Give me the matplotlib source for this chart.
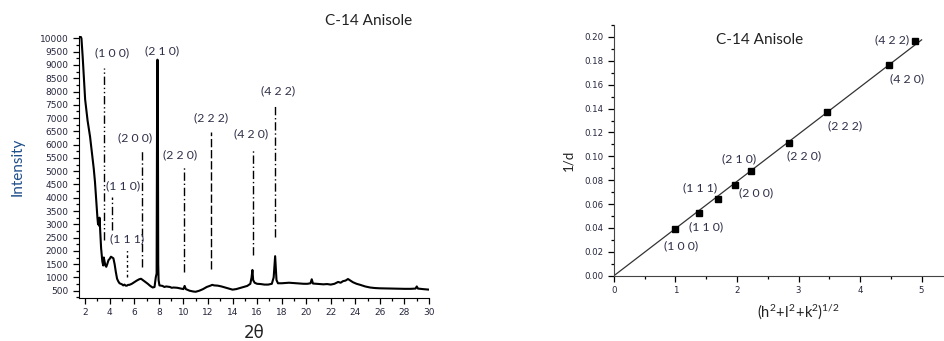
import numpy as np
import matplotlib
matplotlib.use("Agg")
import matplotlib.pyplot as plt
from matplotlib.ticker import MultipleLocator

plt.rcParams['font.family'] = ['DejaVu Sans']
plt.rcParams['mathtext.fontset'] = 'custom'
plt.rcParams['mathtext.rm'] = 'Lato'
plt.rcParams['mathtext.it'] = 'Lato'

# XRD pattern
two_theta = [1.60, 1.70, 1.80, 1.90, 2.00, 2.10, 2.20, 2.30, 2.40, 2.50, 2.60, 2.70,
             2.80, 2.90, 3.00, 3.05, 3.10, 3.13, 3.17, 3.22, 3.30, 3.40, 3.47, 3.52,
             3.58, 3.65, 3.72, 3.80, 3.90, 4.00, 4.10, 4.20, 4.30, 4.40, 4.50, 4.60,
             4.70, 4.80, 4.90, 5.00, 5.10, 5.20, 5.30, 5.40, 5.50, 5.60, 5.80, 6.00,
             6.20, 6.40, 6.55, 6.70, 6.90, 7.10, 7.30, 7.50, 7.65, 7.75, 7.82, 7.86,
             7.89, 7.92, 7.95, 7.98, 8.05, 8.30, 8.45, 8.60, 8.90, 9.05, 9.20, 9.50,
             9.80, 10.00, 10.10, 10.20, 10.50, 10.80, 11.00, 11.30, 11.60, 11.90,
             12.20, 12.35, 12.50, 12.80, 13.10, 13.40, 13.70, 14.00, 14.30, 14.60,
             14.90, 15.20, 15.45, 15.55, 15.62, 15.68, 15.80, 16.00, 16.30, 16.60,
             16.90, 17.20, 17.35, 17.42, 17.47, 17.52, 17.58, 17.70, 18.00, 18.30,
             18.60, 18.90, 19.20, 19.50, 19.80, 20.10, 20.35, 20.45, 20.55, 20.80,
             21.10, 21.40, 21.70, 22.00, 22.30, 22.60, 22.80, 23.00, 23.20, 23.40,
             23.60, 23.80, 24.10, 24.40, 24.80, 25.20, 25.60, 26.00, 26.50, 27.00,
             27.50, 28.00, 28.50, 28.90, 29.00, 29.10, 29.50, 30.00]
intensity = [10100, 10000, 9300, 8500, 7700, 7300, 6900, 6600, 6300, 5900, 5500, 5100,
             4600, 3900, 3250, 3000, 3200, 2950, 3250, 2800, 2100, 1600, 1450, 1750,
             1600, 1450, 1400, 1500, 1650, 1700, 1780, 1750, 1720, 1500, 1200, 950,
             850, 780, 760, 740, 700, 730, 690, 690, 720, 720, 760, 820,
             880, 930, 950, 900, 830, 760, 680, 620, 640, 1000, 1150, 7700,
             9200, 7750, 1500, 900, 700, 680, 640, 660, 640, 610, 620, 610,
             580, 560, 680, 560, 500, 470, 460, 500, 560, 640,
             690, 720, 700, 690, 660, 620, 580, 540, 560, 600,
             640, 680, 760, 1000, 1280, 900, 800, 760, 750, 730,
             730, 760, 1000, 1500, 1800, 1400, 900, 780, 780, 790,
             800, 790, 780, 770, 760, 760, 780, 930, 770, 760,
             750, 740, 750, 730, 760, 830, 800, 860, 880, 940,
             880, 820, 760, 720, 660, 620, 600, 590, 585, 580,
             575, 570, 570, 580, 660, 580, 560, 540]

# indexed reflections marked on the pattern
peak_labels = ['(1 0 0)', '(1 1 0)', '(1 1 1)', '(2 0 0)', '(2 1 0)',
               '(2 2 0)', '(2 2 2)', '(4 2 0)', '(4 2 2)']
peak_pos = [3.57, 4.20, 5.39, 6.66, 7.89, 10.08, 12.23, 15.70, 17.46]
peak_low = [2410, 2780, 1030, 1400, None, 1215, 1305, 1845, 2510]
peak_high = [8870, 4015, 2100, 5820, 9200, 5170, 6490, 5850, 7520]

# 1/d against sqrt(h^2+k^2+l^2)
hkl_root = [1.00, 1.39, 1.69, 1.97, 2.22, 2.84, 3.47, 4.47, 4.90]
inv_d = [0.0394, 0.0528, 0.0642, 0.0763, 0.0880, 0.1115, 0.1370, 0.1763, 0.1964]

lab_col = '#30304a'
tick_col = '#26263e'

fig = plt.figure(figsize=(9.45, 3.41), dpi=100)

# ---- left panel: pattern
ax1 = fig.add_axes([0.0836, 0.1261, 0.3704, 0.769])
ax1.plot(two_theta, intensity, color='black', lw=1.5)
styles = [(0, (6, 2, 1, 2, 1, 2)), (0, (6, 2, 1, 2)), (0, (2, 2, 1, 2)),
          (0, (6, 2, 1, 2)), None, (0, (6, 2, 1, 2)), (0, (6, 2)),
          (0, (6, 2, 1, 2)), (0, (6, 2, 1, 2))]
text_off = [(8, 16), (11, 12), (0, 9), (-7, 12), (5, 9), (-4, 12), (0, 14), (-2, 15), (3, 13)]
for lab, x, lo, hi, ls, off in zip(peak_labels, peak_pos, peak_low, peak_high, styles, text_off):
    if lo is not None:
        ax1.vlines(x, lo, hi, colors='black', linestyles=[ls], lw=1.0)
    ax1.annotate(lab, (x, hi), xytext=off, textcoords='offset pixels',
                 ha='center', va='center', fontsize=8.8, color=lab_col, family='Lato')
ax1.set_xlim(1.5, 30)
ax1.set_ylim(225, 10100)
ax1.xaxis.set_minor_locator(MultipleLocator(1))
ax1.set_xticks(np.arange(2, 31, 2))
ax1.set_yticks(np.arange(500, 10001, 500))
ax1.yaxis.set_minor_locator(MultipleLocator(250))
for s in ['top', 'right']:
    ax1.spines[s].set_visible(False)
ax1.tick_params(which='both', direction='out', labelsize=6.5, labelcolor=tick_col, width=0.9)
ax1.tick_params(which='major', length=4)
ax1.tick_params(which='minor', length=2.5)
fig.text(18 / 945, 1 - 167 / 341, 'Intensity', rotation=90, ha='center', va='center',
         fontsize=11, color='#1f4f8a', family='Lato')
fig.text(254 / 945, 1 - 333 / 341, '2θ', ha='center', va='center', fontsize=12,
         color='#222222', family='DejaVu Sans')
fig.text(369 / 945, 1 - 21 / 341, 'C-14 Anisole', ha='center', va='center', fontsize=11,
         color='#222222', family='Lato')

# ---- right panel: linear fit
ax2 = fig.add_axes([0.6497, 0.1915, 0.3503, 0.7352])
xs = np.array(hkl_root)
ys = np.array(inv_d)
slope = (xs * ys).sum() / (xs * xs).sum()
xfit = np.array([0, 5.0])
ax2.plot(xfit, slope * xfit, color='#333333', lw=0.9)
ax2.plot(hkl_root, inv_d, 's', color='black', ms=4.8)
fit_off = [(6, -17), (7, -14), (-18, 11), (21, -8), (-12, 12), (15, -13), (18, -14), (18, -14), (-23, 1)]
for lab, x, y, off in zip(peak_labels, hkl_root, inv_d, fit_off):
    ax2.annotate(lab, (x, y), xytext=off, textcoords='offset pixels',
                 ha='center', va='center', fontsize=8.8, color=lab_col, family='Lato')
ax2.set_xlim(0, 5.38)
ax2.set_ylim(0, 0.21)
ax2.set_xticks(range(0, 6))
ax2.xaxis.set_minor_locator(MultipleLocator(0.5))
ax2.set_yticks(np.arange(0, 0.201, 0.02))
ax2.yaxis.set_minor_locator(MultipleLocator(0.01))
ax2.set_yticklabels(['%.2f' % v for v in np.arange(0, 0.201, 0.02)])
for s in ['top', 'right']:
    ax2.spines[s].set_visible(False)
for s in ['left', 'bottom']:
    ax2.spines[s].set_color('#444444')
ax2.tick_params(which='both', direction='out', labelsize=6.2, labelcolor=tick_col, width=0.9)
ax2.tick_params(which='major', length=4)
ax2.tick_params(which='minor', length=2.5)
ax2.text(760 / 945, 1 - 40 / 341, 'C-14 Anisole', transform=fig.transFigure, ha='center',
         va='center', fontsize=11, color='#222222', family='Lato')
fig.text(568 / 945, 1 - 160 / 341, '1/d', rotation=90, ha='center', va='center',
         fontsize=9.5, color='#222222', family='Lato')
fig.text(798 / 945, 1 - 312 / 341, r'$\mathregular{(h^2\!+\!l^2\!+\!k^2)^{1/2}}$',
         ha='center', va='center', fontsize=10.5, color='#222222', family='Lato')

fig.savefig('out.png', dpi=100)
